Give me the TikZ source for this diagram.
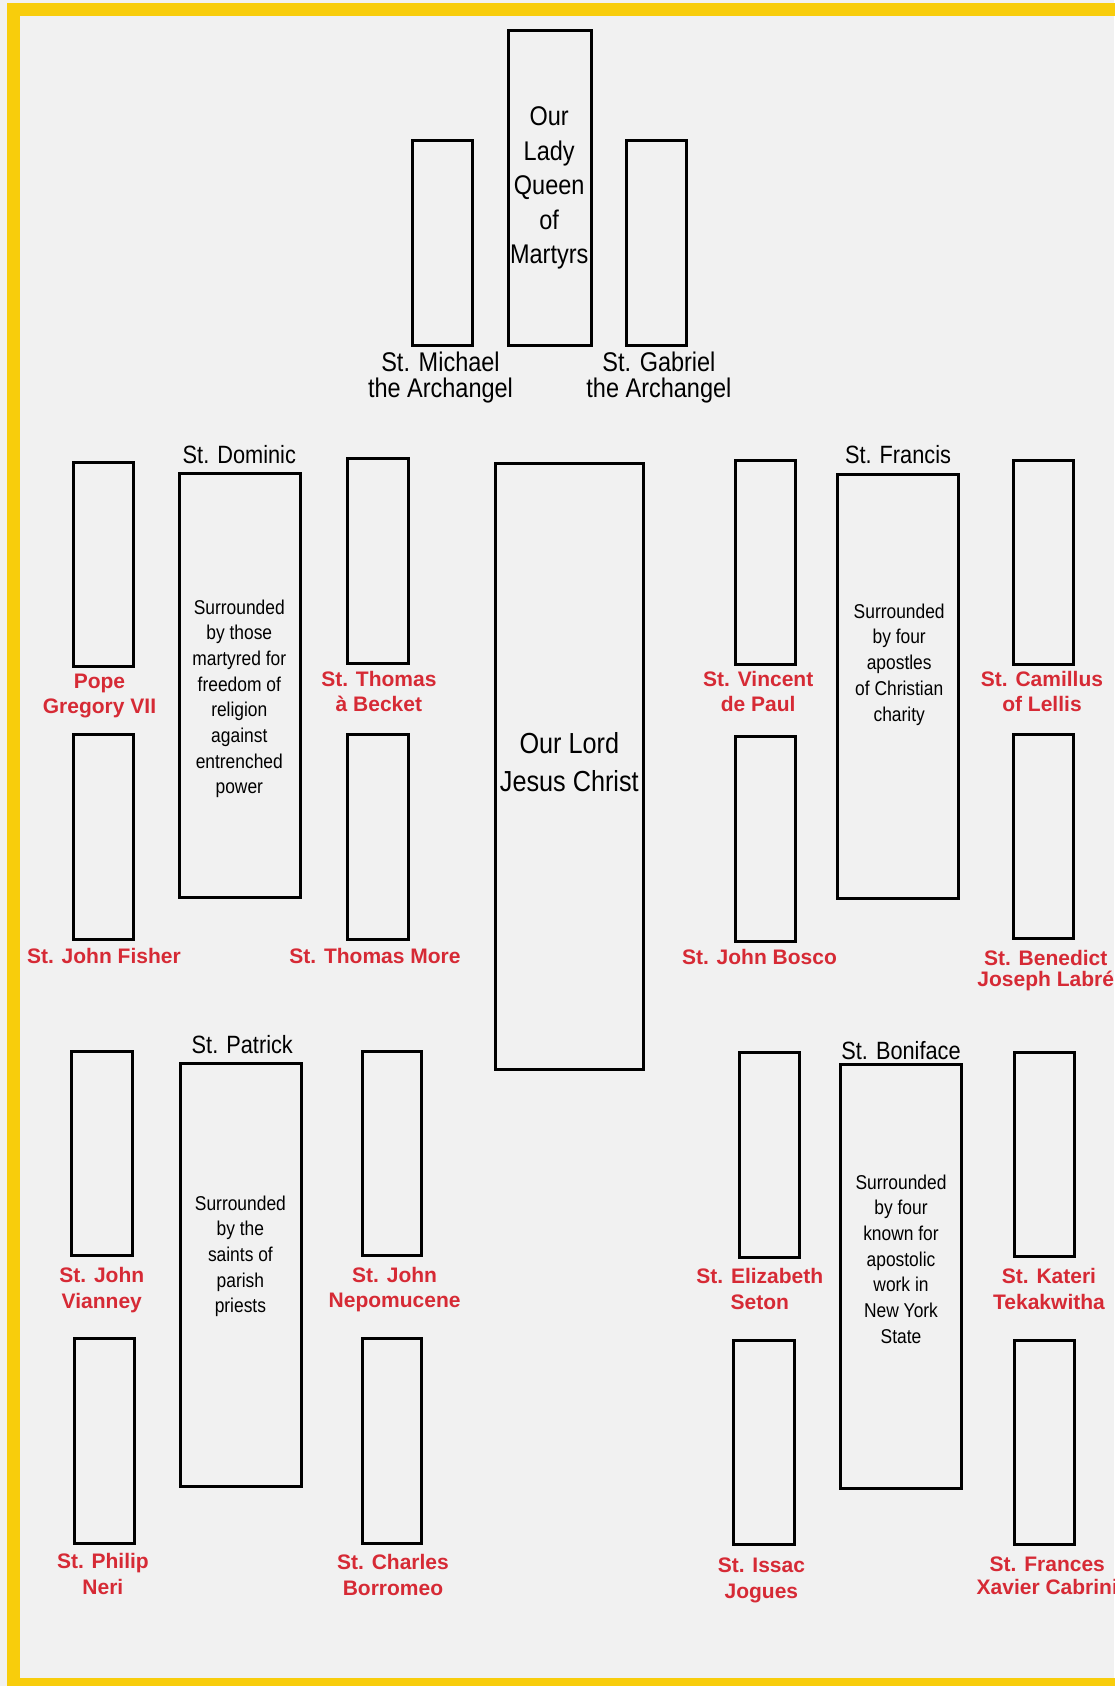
\documentclass[tikz,border=0pt]{standalone}
\usepackage{fontspec}
\setmainfont{Liberation Sans}
\newfontfamily\narrowfont[FakeStretch=0.87]{Liberation Sans}
\definecolor{bgray}{HTML}{F1F1F1}
\definecolor{frameyellow}{HTML}{F8CD0C}
\definecolor{saintred}{HTML}{D62A35}
\begin{document}
\begin{tikzpicture}[x=1pt,y=-1pt,
  pew/.style={draw=black, line width=3pt, rectangle, inner sep=0pt, minimum width=60.3pt, minimum height=204.4pt},
  grp/.style={draw=black, line width=3pt, rectangle, inner sep=0pt, minimum width=121pt, minimum height=424pt},
  redlbl/.style={anchor=base, align=center, inner sep=0pt, text=saintred, font=\fontsize{21}{25.8}\selectfont\bfseries},
  grptitle/.style={anchor=base, inner sep=0pt, font=\narrowfont\fontsize{25}{30}\selectfont},
  smalltxt/.style={anchor=base, align=center, inner sep=0pt, font=\narrowfont\fontsize{20}{25.7}\selectfont},
  angellbl/.style={anchor=base, align=center, inner sep=0pt, font=\narrowfont\fontsize{27}{26.6}\selectfont},
  bigtxt/.style={anchor=base, align=center, inner sep=0pt, font=\narrowfont\fontsize{27}{34.6}\selectfont}
]
% anchor=base of a multi-line node is the baseline of its last line
\useasboundingbox (0,0) rectangle (1114,1686);
\fill[bgray] (0,0) rectangle (1114,1686);
\draw[frameyellow, line width=13pt] (13.5,9.5) rectangle (1140,1684.5);

% top group
\node[draw=black, line width=3pt, rectangle, inner sep=0pt, minimum width=83pt, minimum height=314.7pt] (lady) at (549.5,187.9) {};
\node[bigtxt] (ladytxt) at (549.2,263.9) {Our\\Lady\\Queen\\of\\Martyrs};
\node[pew, minimum width=60pt] (michael) at (442.3,243) {};
\node[pew, minimum width=60pt] (gabriel) at (656.5,243) {};
\node[angellbl] (michaellbl) at (440.5,397.6) {St. Michael\\the Archangel};
\node[angellbl] (gabriellbl) at (658.9,397.6) {St. Gabriel\\the Archangel};

% Our Lord
\node[draw=black, line width=3pt, rectangle, inner sep=0pt, minimum width=148.4pt, minimum height=606.5pt] (lord) at (569.3,766.6) {};
\node[anchor=base, align=center, inner sep=0pt, font=\narrowfont\fontsize{29}{38}\selectfont] (lordtxt) at (569.3,791) {Our Lord\\Jesus Christ};

% Dominic group
\node[grp] (dominic) at (240.2,685.2) {};
\node[grptitle] (dominiclbl) at (239.3,463.6) {St. Dominic};
\node[smalltxt] (dominictxt) at (239.3,793.9) {Surrounded\\by those\\martyred for\\freedom of\\religion\\against\\entrenched\\power};
\node[pew] (gregory) at (103.6,564.2) {};
\node[redlbl] (gregorylbl) at (99.5,713.8) {Pope\\Gregory VII};
\node[pew] (fisher) at (103.6,837) {};
\node[redlbl] (fisherlbl) at (103.9,963) {St. John Fisher};
\node[pew] (becket) at (378,560.9) {};
\node[redlbl] (becketlbl) at (378.9,711.8) {St. Thomas\\à Becket};
\node[pew] (more) at (378,837) {};
\node[redlbl] (morelbl) at (375,963) {St. Thomas More};

% Francis group
\node[grp] (francis) at (898.2,686.8) {};
\node[grptitle] (francislbl) at (898,463.6) {St. Francis};
\node[smalltxt] (francistxt) at (899.2,721) {Surrounded\\by four\\apostles\\of Christian\\charity};
\node[pew] (vincent) at (765.5,562.4) {};
\node[redlbl] (vincentlbl) at (758.2,711.8) {St. Vincent\\de Paul};
\node[pew] (bosco) at (765.5,839) {};
\node[redlbl] (boscolbl) at (759.5,964.6) {St. John Bosco};
\node[pew] (camillus) at (1043.2,562.4) {};
\node[redlbl] (camilluslbl) at (1042,711.8) {St. Camillus\\of Lellis};
\node[pew] (benedict) at (1043.2,836.5) {};
\node[redlbl, font=\fontsize{21}{21}\selectfont\bfseries] (benedictlbl) at (1045.7,986) {St. Benedict\\Joseph Labré};

% Patrick group
\node[grp, minimum height=423pt] (patrick) at (240.9,1274.8) {};
\node[grptitle] (patricklbl) at (242.3,1053.8) {St. Patrick};
\node[smalltxt] (patricktxt) at (240.4,1312.8) {Surrounded\\by the\\saints of\\parish\\priests};
\node[pew] (vianney) at (102,1153.6) {};
\node[redlbl] (vianneylbl) at (101.8,1308.4) {St. John\\Vianney};
\node[pew] (neri) at (104.7,1440.8) {};
\node[redlbl] (nerilbl) at (102.9,1594.6) {St. Philip\\Neri};
\node[pew, minimum width=59.5pt] (nepomucene) at (392,1153.6) {};
\node[redlbl, font=\fontsize{21}{25}\selectfont\bfseries] (nepomucenelbl) at (394.6,1307.6) {St. John\\Nepomucene};
\node[pew, minimum width=59.5pt] (borromeo) at (392,1440.8) {};
\node[redlbl] (borromeolbl) at (393,1595.4) {St. Charles\\Borromeo};

% Boniface group
\node[grp, minimum width=120.7pt, minimum height=423.6pt] (boniface) at (901,1276.7) {};
\node[grptitle] (bonifacelbl) at (901,1059) {St. Boniface};
\node[smalltxt] (bonifacetxt) at (901,1343.2) {Surrounded\\by four\\known for\\apostolic\\work in\\New York\\State};
\node[pew] (seton) at (769.4,1155.1) {};
\node[redlbl] (setonlbl) at (759.8,1309.3) {St. Elizabeth\\Seton};
\node[pew] (jogues) at (764.1,1442.3) {};
\node[redlbl] (joguelbl) at (761.4,1598.1) {St. Issac\\Jogues};
\node[pew] (kateri) at (1044.5,1154.7) {};
\node[redlbl] (katerilbl) at (1049,1309.3) {St. Kateri\\Tekakwitha};
\node[pew] (cabrini) at (1044.5,1442.3) {};
\node[redlbl, font=\fontsize{21}{23.5}\selectfont\bfseries] (cabrinilbl) at (1047.3,1594.5) {St. Frances\\Xavier Cabrini};
\end{tikzpicture}
\end{document}
